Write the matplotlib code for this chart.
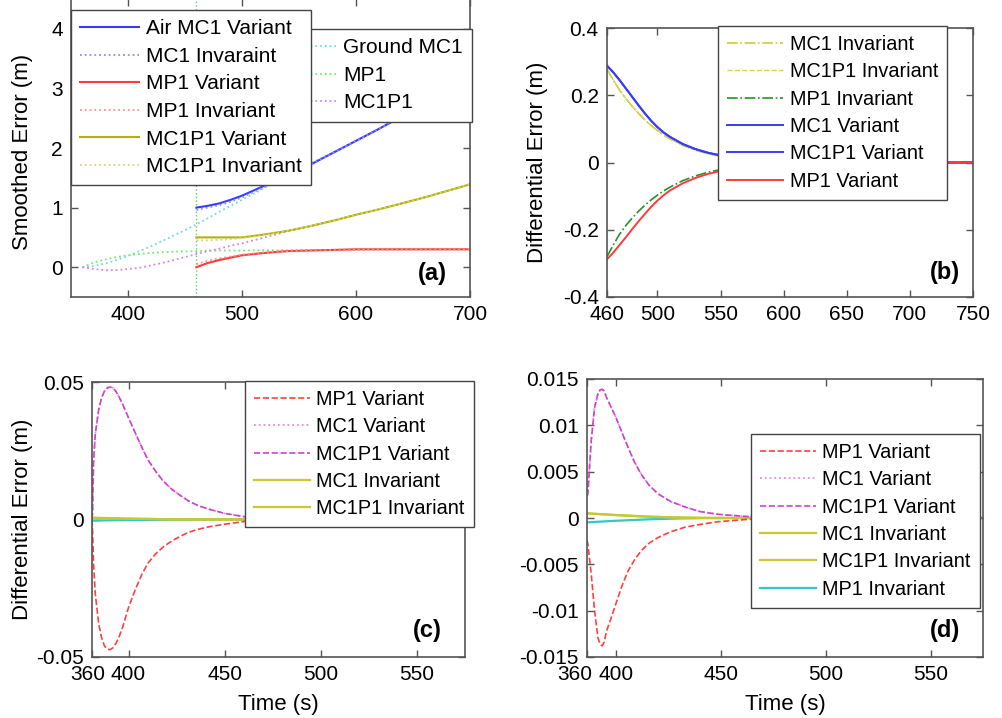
import numpy as np
import matplotlib.pyplot as plt
from matplotlib.ticker import FuncFormatter
from matplotlib.transforms import ScaledTranslation

plt.rcParams['font.family'] = ['Liberation Sans', 'DejaVu Sans']
plt.rcParams['font.size'] = 15
plt.rcParams['axes.unicode_minus'] = False

# ---------------- (a) smoothed error ----------------
t_switch = 460
t_a_pre = [360, 370, 380, 390, 400, 410, 420, 430, 440, 450, 460]
t_a = [460, 470, 480, 490, 500, 520, 540, 560, 580, 600, 620, 640, 660, 680, 700]
ground_mc1_pre = [0.0, 0.02, 0.06, 0.12, 0.19, 0.27, 0.35, 0.44, 0.53, 0.62, 0.72]
ground_mc1 = [0.72, 0.82, 0.93, 1.03, 1.13, 1.33, 1.55, 1.74, 1.93, 2.12, 2.32, 2.53, 2.74, 2.95, 3.15]
mp1_pre = [0.0, 0.08, 0.13, 0.17, 0.2, 0.22, 0.24, 0.25, 0.26, 0.265, 0.27]
mp1 = [0.27, 0.275, 0.28, 0.28, 0.28, 0.285, 0.285, 0.29, 0.29, 0.295, 0.3, 0.3, 0.3, 0.3, 0.3]
mc1p1_pre = [0.0, -0.03, -0.05, -0.05, -0.03, -0.01, 0.03, 0.07, 0.12, 0.17, 0.22]
mc1p1 = [0.22, 0.27, 0.31, 0.36, 0.4, 0.5, 0.6, 0.69, 0.78, 0.88, 0.97, 1.07, 1.17, 1.28, 1.39]
air_mc1_var = [1.0, 1.03, 1.07, 1.13, 1.2, 1.37, 1.55, 1.72, 1.92, 2.12, 2.32, 2.53, 2.74, 2.95, 3.15]
mc1_inv_a = [0.96, 1.0, 1.04, 1.1, 1.17, 1.35, 1.55, 1.72, 1.92, 2.12, 2.32, 2.53, 2.74, 2.95, 3.15]
mp1_var_a = [0.0, 0.07, 0.12, 0.16, 0.2, 0.24, 0.27, 0.28, 0.29, 0.3, 0.3, 0.3, 0.3, 0.3, 0.3]
mp1_inv_a = [0.05, 0.11, 0.15, 0.18, 0.21, 0.25, 0.27, 0.28, 0.29, 0.3, 0.3, 0.3, 0.3, 0.3, 0.3]
mc1p1_var_a = [0.5, 0.5, 0.5, 0.5, 0.5, 0.55, 0.61, 0.69, 0.78, 0.88, 0.97, 1.07, 1.17, 1.28, 1.39]
mc1p1_inv_a = [0.45, 0.45, 0.46, 0.47, 0.49, 0.54, 0.61, 0.69, 0.78, 0.88, 0.97, 1.07, 1.17, 1.28, 1.39]

# ---------------- (b) differential error ----------------
t_b = [460, 465, 470, 475, 480, 485, 490, 495, 500, 505, 510, 520, 530, 540, 550, 560, 580, 600, 650, 700, 750]
mc1_var_b = [0.288, 0.268, 0.245, 0.22, 0.195, 0.17, 0.146, 0.124, 0.105, 0.089, 0.076, 0.055, 0.04,
             0.029, 0.021, 0.015, 0.007, 0.003, 0.0, 0.0, 0.0]
mc1_inv_b = [0.278, 0.245, 0.215, 0.19, 0.167, 0.146, 0.127, 0.11, 0.095, 0.082, 0.07, 0.051, 0.037,
             0.026, 0.018, 0.012, 0.005, 0.002, 0.0, 0.0, 0.0]
mp1_inv_b = [-0.28, -0.245, -0.213, -0.187, -0.165, -0.145, -0.127, -0.111, -0.097, -0.084, -0.073,
             -0.054, -0.04, -0.029, -0.021, -0.015, -0.007, -0.003, 0.0, 0.0, 0.0]
mp1_var_b = [-0.288, -0.268, -0.245, -0.222, -0.198, -0.175, -0.153, -0.132, -0.113, -0.097, -0.083,
             -0.062, -0.046, -0.034, -0.025, -0.018, -0.009, -0.004, -0.001, 0.0, 0.0]

# ---------------- (c) ----------------
t_c = [381, 381.3, 381.8, 382.7, 384.5, 386, 387.5, 389, 390.5, 392, 393.5, 395, 397, 400, 403.5,
       406.9, 410, 413.8, 418, 422.5, 427, 431.1, 436, 441.5, 450.1, 460.5, 475, 500, 575]
mc1p1_var_c = [0.0, 0.003, 0.021, 0.031, 0.04, 0.0443, 0.0467, 0.0479, 0.0482, 0.0478, 0.0465, 0.0447,
               0.0418, 0.037, 0.0315, 0.0263, 0.0218, 0.0178, 0.014, 0.011, 0.0087, 0.0068, 0.0051,
               0.0038, 0.0022, 0.001, 0.0003, 0.0, 0.0]
mp1_var_c = [0.0, -0.004, -0.016, -0.027, -0.038, -0.043, -0.046, -0.0472, -0.0473, -0.0466, -0.045,
             -0.0428, -0.039, -0.032, -0.0255, -0.02, -0.016, -0.0127, -0.01, -0.0078, -0.0061, -0.0047,
             -0.0036, -0.0027, -0.0017, -0.0007, -0.0002, 0.0, 0.0]
t_c_inv = [381, 390, 400, 420, 450, 575]
mc1_inv_c = [0.0006, 0.0005, 0.0003, 0.0001, 0.0, 0.0]
mp1_inv_c = [-0.0004, -0.0003, -0.0002, -0.0001, 0.0, 0.0]

# ---------------- (d) ----------------
t_d = [386.3, 386.7, 388.3, 389.9, 391.5, 392.5, 393.5, 394.5, 395.6, 397.5, 400, 403, 405.9, 409,
       412.2, 416, 420.2, 426, 432.9, 440, 448.7, 463, 480, 575]
mc1p1_var_d = [0.0024, 0.0026, 0.0083, 0.0119, 0.0134, 0.0138, 0.0139, 0.0137, 0.013, 0.0121, 0.0109,
               0.0092, 0.0076, 0.006, 0.0047, 0.0035, 0.0026, 0.0018, 0.0012, 0.0007, 0.0004, 0.00015,
               0.0, 0.0]
mp1_var_d = [-0.0024, -0.0028, -0.006, -0.01, -0.0129, -0.0136, -0.0138, -0.0134, -0.0122, -0.011,
             -0.0093, -0.0073, -0.0057, -0.0045, -0.0035, -0.0027, -0.0021, -0.0015, -0.001, -0.0007,
             -0.0004, -0.00015, 0.0, 0.0]
t_d_inv = [386.3, 400, 415, 430, 445, 575]
mc1_inv_d = [0.0005, 0.00032, 0.00015, 0.00005, 0.0, 0.0]
mp1_inv_d = [-0.00047, -0.0003, -0.00015, -0.00005, 0.0, 0.0]

W, H = 1002, 718


def box(l, t, r, b):
    return [l / W, 1 - b / H, (r - l) / W, (b - t) / H]


def style(ax):
    for s in ax.spines.values():
        s.set_color('#555555')
        s.set_linewidth(1.2)
    ax.tick_params(direction='in', top=True, right=True, length=5, width=1,
                   color='#555555', labelsize=15, pad=6)
    ax.yaxis.set_major_formatter(FuncFormatter(lambda v, p: '%g' % round(v, 6)))


def fig_legend(ax, handles, loc, x, y, fs=14.3, ls=0.42):
    leg = ax.legend(handles=handles, loc=loc, bbox_to_anchor=(x / W, 1 - y / H),
                    bbox_transform=fig.transFigure, fontsize=fs, handlelength=2.8,
                    handletextpad=0.35, borderpad=0.45, labelspacing=ls,
                    fancybox=False, framealpha=1, edgecolor='#444444', borderaxespad=0)
    leg.get_frame().set_linewidth(1.0)
    return leg


fig = plt.figure(figsize=(W / 100, H / 100), dpi=100)

# (a)
ax = fig.add_axes(box(71, -1, 470, 297))
style(ax)
ax.axvline(t_switch, color='#60d060', ls=':', lw=1)
g1, = ax.plot(t_a_pre + t_a, ground_mc1_pre + ground_mc1, ':', color='#70dcdc', lw=1.3, label='Ground MC1')
g2, = ax.plot(t_a_pre + t_a, mp1_pre + mp1, ':', color='#70ee70', lw=1.3, label='MP1')
g3, = ax.plot(t_a_pre + t_a, mc1p1_pre + mc1p1, ':', color='#e080e0', lw=1.3, label='MC1P1')
h1, = ax.plot(t_a, air_mc1_var, '-', color='#3a3aff', lw=1.5, label='Air MC1 Variant')
h2, = ax.plot(t_a, mc1_inv_a, ':', color='#8c8cff', lw=1.3, label='MC1 Invaraint')
h3, = ax.plot(t_a, mp1_var_a, '-', color='#ff3a3a', lw=1.5, label='MP1 Variant')
h4, = ax.plot(t_a, mp1_inv_a, ':', color='#ff9090', lw=1.3, label='MP1 Invariant')
h5, = ax.plot(t_a, mc1p1_var_a, '-', color='#b4b400', lw=1.5, label='MC1P1 Variant')
h6, = ax.plot(t_a, mc1p1_inv_a, ':', color='#d6d680', lw=1.3, label='MC1P1 Invariant')
ax.set_xlim(350, 700)
ax.set_ylim(-0.5, 4.5)
ax.set_xticks([400, 500, 600, 700])
ax.set_yticks([0, 1, 2, 3, 4])
ax.set_ylabel('Smoothed Error (m)', fontsize=16)
ax.yaxis.set_label_coords(-0.095, 0.487)
ax.text(0.905, 0.08, '(a)', transform=ax.transAxes, fontsize=17, fontweight='bold',
        ha='center', va='center')
leg2 = fig_legend(ax, [g1, g2, g3], 'upper right', 472, 29, fs=15, ls=0.41)
ax.add_artist(leg2)
leg1 = fig_legend(ax, [h1, h2, h3, h4, h5, h6], 'upper left', 71, 10, fs=15, ls=0.41)
leg1.set_zorder(10)

# (b)
ax = fig.add_axes(box(607, 28, 973, 297))
style(ax)
b1, = ax.plot(t_b, mc1_inv_b, '-.', color='#cccc33', lw=1.2, label='MC1 Invariant')
b2, = ax.plot(t_b, mc1_inv_b, '--', color='#d4d450', lw=1.0, label='MC1P1 Invariant')
b3, = ax.plot(t_b, mp1_inv_b, '-.', color='#22962a', lw=1.2, label='MP1 Invariant')
b4, = ax.plot(t_b, mc1_var_b, '-', color='#3a3aff', lw=1.4, label='MC1 Variant')
b5, = ax.plot(t_b, mc1_var_b, '-', color='#3a3aff', lw=1.4, label='MC1P1 Variant')
b6, = ax.plot(t_b, mp1_var_b, '-', color='#ff3a3a', lw=1.4, label='MP1 Variant')
ax.set_xlim(460, 750)
ax.set_ylim(-0.4, 0.4)
ax.set_xticks([460, 500, 550, 600, 650, 700, 750])
ax.set_yticks([-0.4, -0.2, 0, 0.2, 0.4])
ax.set_ylabel('Differential Error (m)', fontsize=16)
ax.yaxis.set_label_coords(-0.161, 0.5)
ax.text(0.923, 0.09, '(b)', transform=ax.transAxes, fontsize=17, fontweight='bold',
        ha='center', va='center')
fig_legend(ax, [b1, b2, b3, b4, b5, b6], 'upper left', 718, 26)

# (c)
ax = fig.add_axes(box(92, 382, 465, 657))
style(ax)
ax.plot(t_c_inv, mp1_inv_c, '-', color='#30c8c8', lw=1.6)
c4, = ax.plot(t_c_inv, mc1_inv_c, '-', color='#c8c832', lw=1.6, label='MC1 Invariant')
c5, = ax.plot(t_c_inv, mc1_inv_c, '-', color='#c8c832', lw=1.6, label='MC1P1 Invariant')
c2, = ax.plot(t_c, mc1p1_var_c, ':', color='#e28ee2', lw=1.3, label='MC1 Variant')
c3, = ax.plot(t_c, mc1p1_var_c, '--', color='#cc44cc', lw=1.2, label='MC1P1 Variant')
c1, = ax.plot(t_c, mp1_var_c, '--', color='#ff4040', lw=1.2, label='MP1 Variant')
ax.set_xlim(t_c[0], 575)
ax.set_ylim(-0.05, 0.05)
ax.set_xticks([t_c[0], 400, 450, 500, 550])
ax.set_xticklabels(['360', '400', '450', '500', '550'])
ax.set_yticks([-0.05, 0, 0.05])
ax.set_ylabel('Differential Error (m)', fontsize=16)
ax.yaxis.set_label_coords(-0.158, 0.5)
ax.set_xlabel('Time (s)', fontsize=16, labelpad=7)
ax.text(0.90, 0.098, '(c)', transform=ax.transAxes, fontsize=17, fontweight='bold',
        ha='center', va='center')
fig_legend(ax, [c1, c2, c3, c4, c5], 'upper left', 245, 381)
lab = ax.get_xticklabels()[0]
lab.set_transform(lab.get_transform() + ScaledTranslation(-4 / 100, 0, fig.dpi_scale_trans))

# (d)
ax = fig.add_axes(box(587, 379, 983, 657))
style(ax)
d6, = ax.plot(t_d_inv, mp1_inv_d, '-', color='#30c8c8', lw=1.6, label='MP1 Invariant')
d4, = ax.plot(t_d_inv, mc1_inv_d, '-', color='#c8c832', lw=1.6, label='MC1 Invariant')
d5, = ax.plot(t_d_inv, mc1_inv_d, '-', color='#c8c832', lw=1.6, label='MC1P1 Invariant')
d2, = ax.plot(t_d, mc1p1_var_d, ':', color='#e28ee2', lw=1.3, label='MC1 Variant')
d3, = ax.plot(t_d, mc1p1_var_d, '--', color='#cc44cc', lw=1.2, label='MC1P1 Variant')
d1, = ax.plot(t_d, mp1_var_d, '--', color='#ff4040', lw=1.2, label='MP1 Variant')
ax.set_xlim(t_d[0], 575)
ax.set_ylim(-0.015, 0.015)
ax.set_xticks([t_d[0], 400, 450, 500, 550])
ax.set_xticklabels(['360', '400', '450', '500', '550'])
ax.set_yticks([-0.015, -0.01, -0.005, 0, 0.005, 0.01, 0.015])
ax.set_xlabel('Time (s)', fontsize=16, labelpad=7)
ax.text(0.904, 0.097, '(d)', transform=ax.transAxes, fontsize=17, fontweight='bold',
        ha='center', va='center')
fig_legend(ax, [d1, d2, d3, d4, d5, d6], 'upper left', 751, 434)
lab = ax.get_xticklabels()[0]
lab.set_transform(lab.get_transform() + ScaledTranslation(-12 / 100, 0, fig.dpi_scale_trans))

fig.savefig('out.png', dpi=100)
